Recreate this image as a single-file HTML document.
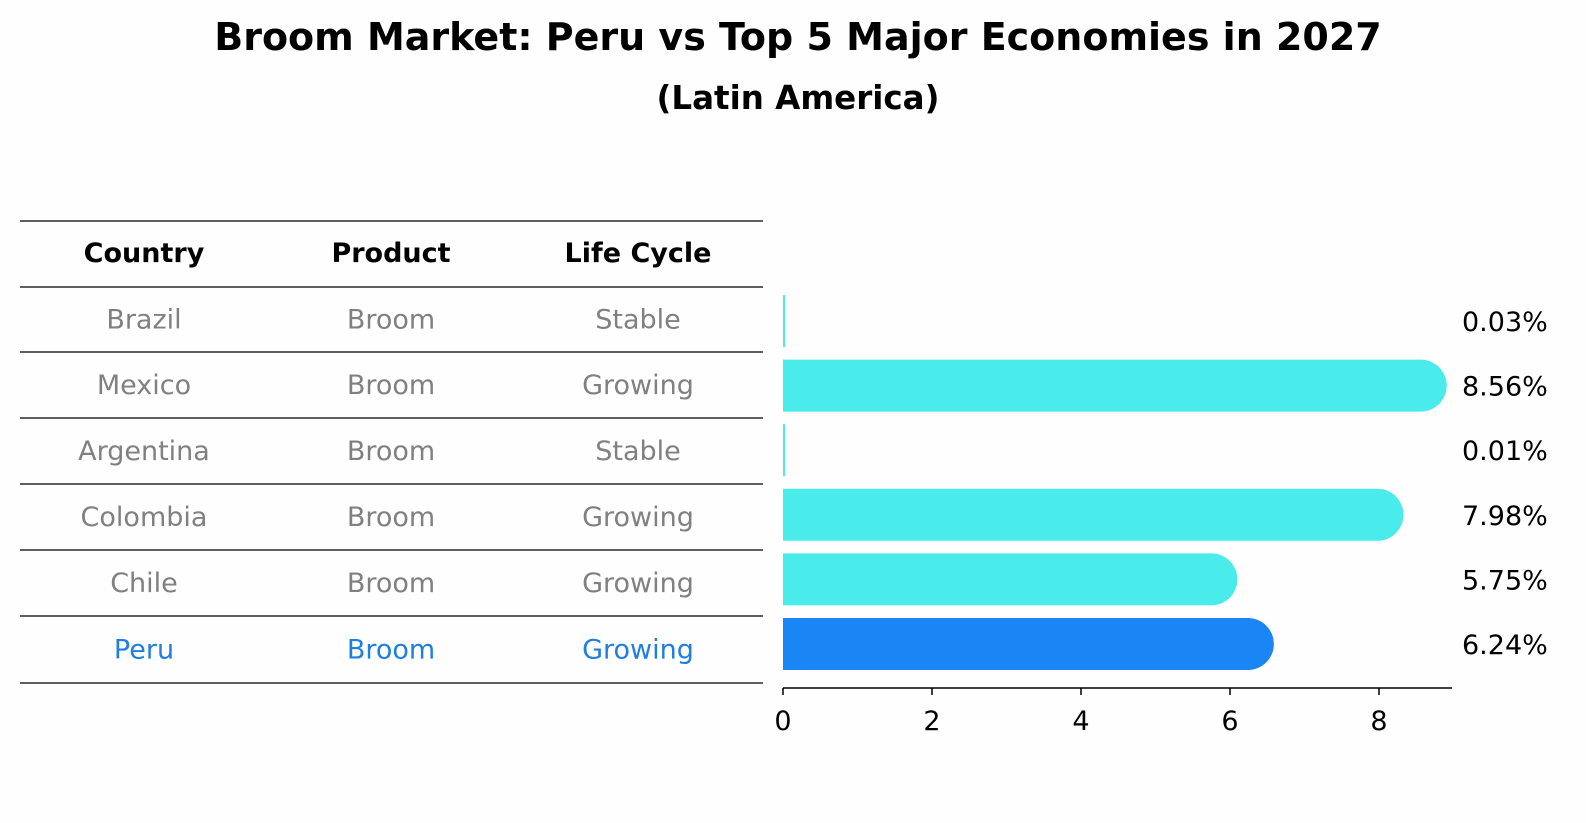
<!DOCTYPE html>
<html style="overflow:hidden;margin:0"><head><meta charset="utf-8"><style>
html,body{margin:0;padding:0}
body{background:#fefefe;width:1586px;height:823px;overflow:hidden;font-family:"DejaVu Sans","Liberation Sans",sans-serif}
svg{display:block}
</style></head><body>
<svg width="1586" height="823" viewBox="0 0 1586 823" xmlns="http://www.w3.org/2000/svg" font-family="DejaVu Sans, Liberation Sans, sans-serif">
<text x="798" y="50" text-anchor="middle" font-size="38" font-weight="bold">Broom Market: Peru vs Top 5 Major Economies in 2027</text>
<text x="798" y="109" text-anchor="middle" font-size="32.5" font-weight="bold">(Latin America)</text>
<g id="table"></g>
<g id="bars"></g>
</svg>
<script>
const countries=["Brazil","Mexico","Argentina","Colombia","Chile","Peru"];
const products=["Broom","Broom","Broom","Broom","Broom","Broom"];
const lifecycle=["Stable","Growing","Stable","Growing","Growing","Growing"];
const values=[0.03,8.56,0.01,7.98,5.75,6.24];
const labels=["0.03%","8.56%","0.01%","7.98%","5.75%","6.24%"];
const ticks=[0,2,4,6,8];
const NS="http://www.w3.org/2000/svg";
function mk(t,a,p){const e=document.createElementNS(NS,t);for(const k in a)e.setAttribute(k,a[k]);p.appendChild(e);return e;}
const x0=783,pxPer=74.5;
const xs=v=>x0+v*pxPer;
const ys=i=>321+i*64.6;
const tb=document.getElementById('table');
const lineY=[221,287,352,418,484,550,616,683];
lineY.forEach(y=>{const l=mk('line',{x1:20,x2:763,y1:y,y2:y,stroke:'#000','stroke-width':1.2},tb);

});
const cx=[144,391,638];
["Country","Product","Life Cycle"].forEach((h,j)=>{const t=mk('text',{x:cx[j],y:262,'text-anchor':'middle','font-size':27,'font-weight':'bold'},tb);t.textContent=h;

});
countries.forEach((c,i)=>{const col=c==="Peru"?'#1f7fe0':'#808080';const y=(lineY[i+1]+lineY[i+2])/2+9;
[c,products[i],lifecycle[i]].forEach((v,j)=>{const t=mk('text',{x:cx[j],y:y,'text-anchor':'middle','font-size':27,fill:col},tb);t.textContent=v;

});});
const bg=document.getElementById('bars');
const h=52,r=26;
values.forEach((v,i)=>{const col=countries[i]==="Peru"?'#1a86f5':'#4aeceb';const yc=ys(i);const xe=xs(v);
let d;
if(v<0.1){d=`M${x0},${yc-h/2}h2v${h}h-2z`;}
else d=`M${x0},${yc-h/2}H${xe}A${r},${r} 0 0 1 ${xe},${yc+h/2}H${x0}Z`;
const p=mk('path',{d:d,fill:col},bg);


const t=mk('text',{x:1462,y:yc+10,'font-size':27},bg);t.textContent=labels[i];

});
const ax=mk('line',{x1:x0,x2:1452,y1:688,y2:688,stroke:'#000','stroke-width':1.5},bg);


ticks.forEach(tv=>{const x=xs(tv);const l=mk('line',{x1:x,x2:x,y1:688,y2:695,stroke:'#000','stroke-width':1.5},bg);


const t=mk('text',{x:x,y:730,'text-anchor':'middle','font-size':27},bg);t.textContent=tv;

});
</script>
</body></html>
